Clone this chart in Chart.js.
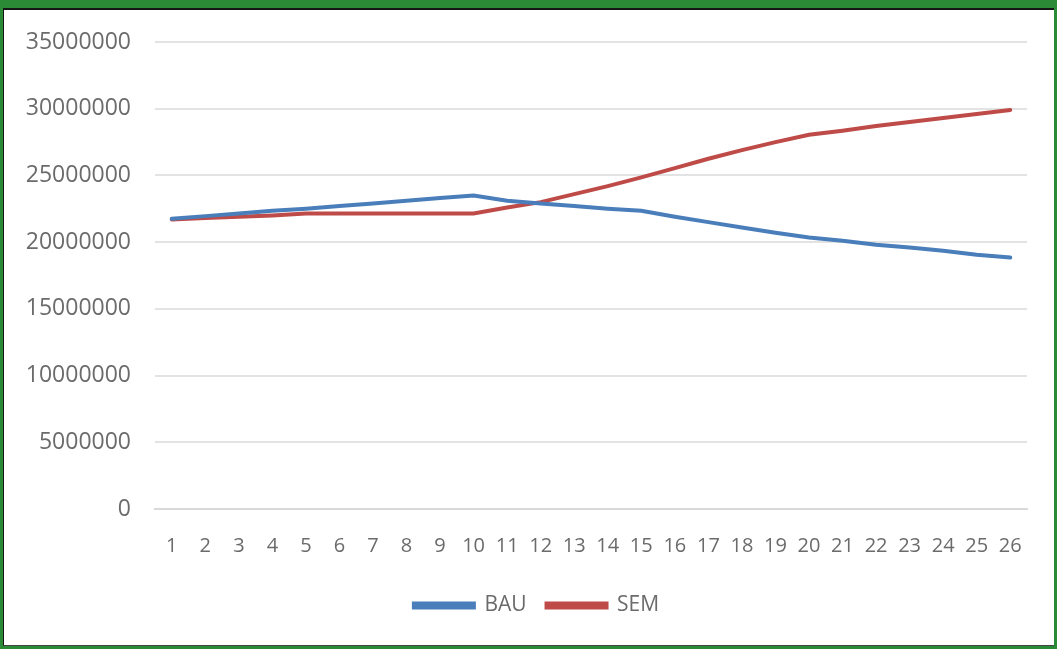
<!DOCTYPE html>
<html>
<head>
<meta charset="utf-8">
<script src="https://cdn.jsdelivr.net/npm/chart.js@4/dist/chart.umd.min.js"></script>
<style>
  html, body { margin: 0; padding: 0; }
  body { width: 1057px; height: 649px; background: #2b8a36; position: relative; overflow: hidden; }
  .frame {
    position: absolute; left: 3px; top: 8px; width: 1050px; height: 635px;
    background: #fff; border-top: 2px solid #151515; border-left: 1px solid #151515;
    border-bottom: 1px solid #444;
  }
  .frame canvas { display: block; }
</style>
</head>
<body>
<div class="frame"><canvas id="chart" width="1050" height="635"></canvas></div>
<script>
// ─── Data ─────────────────────────────────────────────────────────
const periods = Array.from({ length: 26 }, (_, i) => String(i + 1));
const bauValues = [
  21750000, 21950000, 22150000, 22350000, 22500000, 22700000, 22900000, 23100000, 23300000, 23500000,
  23100000, 22900000, 22700000, 22500000, 22350000, 21900000, 21500000, 21100000, 20700000, 20350000,
  20100000, 19800000, 19600000, 19350000, 19050000, 18850000
];
const semValues = [
  21700000, 21800000, 21900000, 22000000, 22150000, 22150000, 22150000, 22150000, 22150000, 22150000,
  22600000, 23000000, 23600000, 24200000, 24850000, 25550000, 26250000, 26900000, 27500000, 28050000,
  28350000, 28700000, 29000000, 29300000, 29600000, 29900000
];
const yTicks = { min: 0, max: 35000000, step: 5000000 };

const BLUE = '#4a7ebb';
const RED  = '#be4b48';
const TXT  = '#6b6b6b';
const FONT = "'Open Sans', sans-serif";

Chart.defaults.font.family = FONT;
Chart.defaults.color = TXT;

// legend sits a little right of centre in the original
const legendShift = {
  id: 'legendShift',
  afterLayout(chart) {
    chart.legend.left += 21;
    chart.legend.right += 21;
  }
};

new Chart(document.getElementById('chart'), {
  type: 'line',
  data: {
    labels: periods,
    datasets: [
      { label: 'BAU', data: bauValues, borderColor: BLUE, backgroundColor: BLUE,
        borderWidth: 4, pointRadius: 0, tension: 0, borderCapStyle: 'round' },
      { label: 'SEM', data: semValues, borderColor: RED, backgroundColor: RED,
        borderWidth: 4, pointRadius: 0, tension: 0, borderCapStyle: 'round' }
    ]
  },
  options: {
    responsive: false,
    animation: false,
    layout: { padding: { top: 32, right: 27, bottom: 19, left: 0 } },
    plugins: {
      legend: {
        position: 'bottom',
        labels: {
          boxWidth: 60, boxHeight: 4, padding: 20,
          font: { size: 21 }, color: TXT
        }
      },
      tooltip: { enabled: false }
    },
    scales: {
      x: {
        offset: true,
        grid: { display: false, drawTicks: false },
        border: { display: true, color: '#d9d9d9', width: 2 },
        ticks: { font: { size: 20 }, padding: 25, maxRotation: 0, autoSkip: false },
        afterFit: s => { s.height = 66; }
      },
      y: {
        min: yTicks.min, max: yTicks.max,
        grid: { color: '#e3e3e3', lineWidth: 2, drawTicks: true, tickLength: 14, tickColor: 'rgba(0,0,0,0)' },
        border: { display: false },
        ticks: { stepSize: yTicks.step, font: { size: 23 }, padding: 10, callback: v => String(v) },
        afterFit: s => { s.width = 151; }
      }
    }
  },
  plugins: [legendShift]
});
</script>
</body>
</html>
